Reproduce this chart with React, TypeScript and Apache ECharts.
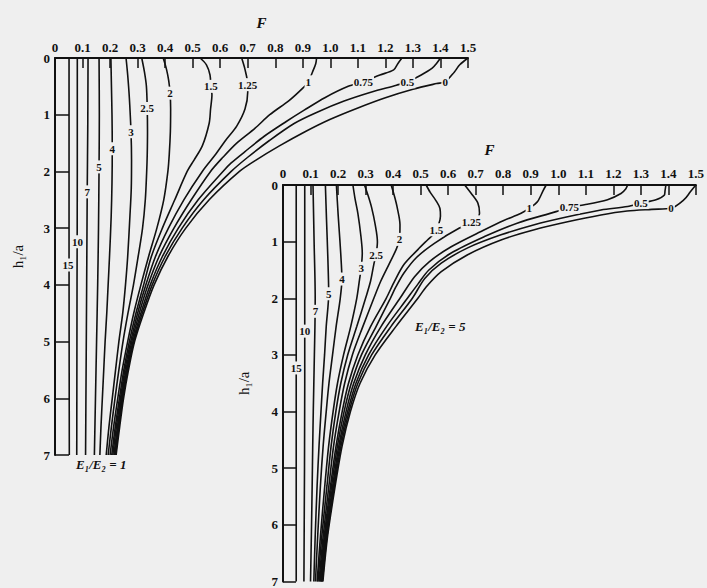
import { useEffect, useRef } from 'react';
import * as echarts from 'echarts';

type Pt = [number, number];

// Curve names: offset ratio r/a
const rOverA = ['0', '0.5', '0.75', '1', '1.25', '1.5', '2', '2.5', '3', '4', '5', '7', '10', '15'];

// E1/E2 = 1 — points are [F, h1/a]
const e1R0: Pt[] = [[1.5,0],[1.47,0.12],[1.45,0.25],[1.417,0.42],[1.386,0.45],[1.3,0.55],[1.2,0.7],[1.1,0.88],[1.0,1.08],[0.908,1.3],[0.815,1.55],[0.73,1.8],[0.67,2.0],[0.56,2.5],[0.475,3.0],[0.41,3.5],[0.36,4.0],[0.322,4.5],[0.289,5.0],[0.267,5.5],[0.249,6.0],[0.235,6.5],[0.222,7.0]];
const e1R05: Pt[] = [[1.4,0],[1.385,0.1],[1.37,0.18],[1.33,0.3],[1.28,0.42],[1.24,0.48],[1.15,0.6],[1.05,0.76],[0.95,0.96],[0.87,1.15],[0.78,1.45],[0.7,1.75],[0.64,2.0],[0.54,2.5],[0.462,3.0],[0.4,3.5],[0.353,4.0],[0.317,4.5],[0.286,5.0],[0.264,5.5],[0.246,6.0],[0.232,6.5],[0.22,7.0]];
const e1R075: Pt[] = [[1.26,0],[1.245,0.1],[1.23,0.21],[1.18,0.3],[1.12,0.42],[1.065,0.5],[0.98,0.7],[0.905,0.92],[0.84,1.12],[0.76,1.38],[0.69,1.65],[0.64,1.85],[0.61,2.0],[0.52,2.5],[0.448,3.0],[0.39,3.5],[0.346,4.0],[0.312,4.5],[0.283,5.0],[0.261,5.5],[0.244,6.0],[0.23,6.5],[0.217,7.0]];
const e1R1: Pt[] = [[0.95,0],[0.947,0.1],[0.935,0.25],[0.92,0.42],[0.9,0.53],[0.85,0.75],[0.78,1.0],[0.726,1.24],[0.66,1.5],[0.61,1.75],[0.565,2.0],[0.495,2.5],[0.432,3.0],[0.378,3.5],[0.338,4.0],[0.306,4.5],[0.279,5.0],[0.258,5.5],[0.241,6.0],[0.227,6.5],[0.214,7.0]];
const e1R125: Pt[] = [[0.678,0],[0.69,0.2],[0.7,0.47],[0.7,0.6],[0.69,0.9],[0.66,1.2],[0.62,1.45],[0.58,1.72],[0.535,2.0],[0.468,2.5],[0.412,3.0],[0.365,3.5],[0.33,4.0],[0.3,4.5],[0.275,5.0],[0.254,5.5],[0.238,6.0],[0.223,6.5],[0.21,7.0]];
const e1R15: Pt[] = [[0.527,0],[0.55,0.12],[0.563,0.3],[0.566,0.5],[0.57,0.65],[0.565,0.9],[0.56,1.15],[0.535,1.55],[0.505,1.8],[0.48,2.0],[0.435,2.5],[0.39,3.0],[0.35,3.5],[0.322,4.0],[0.294,4.5],[0.27,5.0],[0.25,5.5],[0.234,6.0],[0.219,6.5],[0.206,7.0]];
const e1R2: Pt[] = [[0.393,0],[0.405,0.2],[0.413,0.4],[0.418,0.62],[0.42,0.9],[0.419,1.3],[0.415,1.7],[0.41,2.0],[0.395,2.5],[0.37,3.0],[0.34,3.5],[0.312,4.0],[0.286,4.5],[0.264,5.0],[0.244,5.5],[0.228,6.0],[0.213,6.5],[0.2,7.0]];
const e1R25: Pt[] = [[0.315,0],[0.325,0.25],[0.332,0.5],[0.335,0.89],[0.336,1.3],[0.335,1.7],[0.333,2.0],[0.328,2.5],[0.318,3.0],[0.302,3.5],[0.285,4.0],[0.265,4.5],[0.247,5.0],[0.232,5.5],[0.218,6.0],[0.205,6.5],[0.193,7.0]];
const e1R3: Pt[] = [[0.258,0],[0.264,0.3],[0.27,0.7],[0.276,1.3],[0.278,1.8],[0.277,2.3],[0.272,2.8],[0.264,3.5],[0.256,4.0],[0.246,4.5],[0.232,5.0],[0.22,5.5],[0.208,6.0],[0.196,6.5],[0.186,7.0]];
const e1R4: Pt[] = [[0.203,0],[0.205,0.5],[0.207,1.0],[0.208,1.6],[0.207,2.2],[0.204,2.8],[0.198,3.5],[0.193,4.0],[0.188,4.5],[0.182,5.0],[0.177,5.5],[0.172,6.0],[0.167,6.5],[0.163,7.0]];
const e1R5: Pt[] = [[0.16,0],[0.161,1.0],[0.16,1.92],[0.158,3.0],[0.155,4.0],[0.151,5.0],[0.147,6.0],[0.143,7.0]];
const e1R7: Pt[] = [[0.12,0],[0.119,1.2],[0.117,2.36],[0.115,4.0],[0.113,5.5],[0.111,7.0]];
const e1R10: Pt[] = [[0.081,0],[0.081,2.0],[0.08,4.0],[0.079,7.0]];
const e1R15b: Pt[] = [[0.051,0],[0.051,3.5],[0.052,7.0]];

// where each r/a name sits on its curve (E1/E2 = 1)
const e1LabelAt: Pt[] = [[1.417,0.42],[1.28,0.42],[1.12,0.42],[0.92,0.42],[0.7,0.47],[0.566,0.5],[0.418,0.62],[0.335,0.89],[0.276,1.3],[0.208,1.6],[0.16,1.92],[0.117,2.36],[0.082,3.24],[0.047,3.65]];

// E1/E2 = 5 — points are [F, h1/a]
const e5R0: Pt[] = [[1.5,0],[1.48,0.12],[1.457,0.26],[1.41,0.41],[1.34,0.43],[1.25,0.46],[1.155,0.53],[1.034,0.65],[0.913,0.79],[0.792,0.97],[0.671,1.23],[0.575,1.53],[0.52,1.8],[0.49,2.0],[0.41,2.5],[0.335,3.0],[0.28,3.5],[0.245,4.0],[0.215,4.6],[0.19,5.3],[0.162,6.2],[0.145,7.0]];
const e5R05: Pt[] = [[1.391,0],[1.388,0.1],[1.385,0.18],[1.355,0.26],[1.3,0.32],[1.252,0.38],[1.155,0.44],[1.034,0.56],[0.913,0.7],[0.792,0.88],[0.671,1.11],[0.575,1.38],[0.515,1.65],[0.47,2.0],[0.392,2.5],[0.322,3.0],[0.272,3.5],[0.24,4.0],[0.211,4.6],[0.187,5.3],[0.16,6.2],[0.143,7.0]];
const e5R075: Pt[] = [[1.252,0],[1.245,0.07],[1.228,0.15],[1.179,0.26],[1.095,0.35],[1.04,0.39],[0.992,0.47],[0.853,0.67],[0.732,0.91],[0.611,1.2],[0.53,1.5],[0.49,1.75],[0.452,2.0],[0.376,2.5],[0.311,3.0],[0.265,3.5],[0.235,4.0],[0.207,4.6],[0.184,5.3],[0.158,6.2],[0.141,7.0]];
const e5R1: Pt[] = [[0.956,0],[0.945,0.1],[0.925,0.29],[0.895,0.41],[0.865,0.5],[0.8,0.63],[0.732,0.79],[0.611,1.09],[0.53,1.36],[0.478,1.62],[0.425,2.0],[0.356,2.5],[0.299,3.0],[0.257,3.5],[0.229,4.0],[0.203,4.6],[0.181,5.3],[0.156,6.2],[0.139,7.0]];
const e5R125: Pt[] = [[0.66,0],[0.684,0.15],[0.708,0.32],[0.714,0.5],[0.705,0.6],[0.675,0.7],[0.641,0.76],[0.55,1.03],[0.485,1.28],[0.44,1.55],[0.41,1.8],[0.39,2.0],[0.338,2.5],[0.285,3.0],[0.248,3.5],[0.222,4.0],[0.198,4.6],[0.177,5.3],[0.153,6.2],[0.137,7.0]];
const e5R15: Pt[] = [[0.52,0],[0.535,0.13],[0.555,0.27],[0.57,0.41],[0.572,0.55],[0.565,0.7],[0.55,0.85],[0.525,0.97],[0.49,1.14],[0.44,1.4],[0.405,1.7],[0.375,2.0],[0.318,2.5],[0.272,3.0],[0.238,3.5],[0.215,4.0],[0.193,4.6],[0.173,5.3],[0.15,6.2],[0.134,7.0]];
const e5R2: Pt[] = [[0.393,0],[0.405,0.2],[0.415,0.4],[0.425,0.7],[0.423,0.96],[0.41,1.15],[0.385,1.4],[0.355,1.7],[0.33,2.0],[0.29,2.5],[0.252,3.0],[0.224,3.5],[0.204,4.0],[0.184,4.6],[0.167,5.3],[0.146,6.2],[0.131,7.0]];
const e5R25: Pt[] = [[0.296,0],[0.31,0.2],[0.322,0.4],[0.335,0.7],[0.343,1.0],[0.338,1.23],[0.33,1.4],[0.318,1.7],[0.3,2.0],[0.268,2.5],[0.235,3.0],[0.21,3.5],[0.192,4.0],[0.175,4.6],[0.16,5.3],[0.141,6.2],[0.127,7.0]];
const e5R3: Pt[] = [[0.254,0],[0.262,0.25],[0.272,0.5],[0.283,0.9],[0.288,1.2],[0.284,1.47],[0.278,1.67],[0.268,2.0],[0.246,2.5],[0.22,3.0],[0.198,3.5],[0.182,4.0],[0.166,4.6],[0.152,5.3],[0.136,6.2],[0.124,7.0]];
const e5R4: Pt[] = [[0.194,0],[0.2,0.5],[0.207,1.0],[0.212,1.4],[0.214,1.66],[0.208,2.0],[0.193,2.5],[0.18,3.0],[0.167,3.5],[0.157,4.0],[0.146,4.6],[0.136,5.3],[0.126,6.2],[0.118,7.0]];
const e5R5: Pt[] = [[0.154,0],[0.158,0.6],[0.163,1.3],[0.166,1.92],[0.157,2.5],[0.151,3.0],[0.144,3.5],[0.138,4.0],[0.131,4.6],[0.124,5.3],[0.117,6.2],[0.112,7.0]];
const e5R7: Pt[] = [[0.109,0],[0.113,1.0],[0.117,2.0],[0.116,2.5],[0.114,3.0],[0.112,3.5],[0.11,4.0],[0.108,4.6],[0.106,5.3],[0.103,6.2],[0.1,7.0]];
const e5R10: Pt[] = [[0.079,0],[0.079,3.5],[0.076,7.0]];
const e5R15b: Pt[] = [[0.048,0],[0.048,7.0]];

// where each r/a name sits on its curve (E1/E2 = 5)
const e5LabelAt: Pt[] = [[1.41,0.41],[1.3,0.31],[1.04,0.39],[0.895,0.41],[0.684,0.65],[0.557,0.79],[0.423,0.96],[0.338,1.23],[0.284,1.47],[0.214,1.66],[0.166,1.92],[0.118,2.23],[0.079,2.58],[0.048,3.23]];

const e1Curves = [e1R0, e1R05, e1R075, e1R1, e1R125, e1R15, e1R2, e1R25, e1R3, e1R4, e1R5, e1R7, e1R10, e1R15b];
const e5Curves = [e5R0, e5R05, e5R075, e5R1, e5R125, e5R15, e5R2, e5R25, e5R3, e5R4, e5R5, e5R7, e5R10, e5R15b];

const BG = '#efefef';
const INK = '#111111';
const SERIF = '"Liberation Serif", "DejaVu Serif", serif';

function xAxisFor(gridIndex: number, labelMargin: number) {
  return {
    type: 'value', gridIndex, position: 'top', min: 0, max: 1.5, interval: 0.1,
    name: 'F', nameLocation: 'middle', nameGap: 28,
    nameTextStyle: { fontFamily: SERIF, fontStyle: 'italic', fontWeight: 'bold', fontSize: 15, color: INK },
    axisLine: { show: true, onZero: false, lineStyle: { color: INK, width: 2 } },
    axisTick: { show: true, inside: true, length: 10, lineStyle: { color: INK, width: 1.5 } },
    axisLabel: {
      margin: labelMargin, fontFamily: SERIF, fontWeight: 'bold', fontSize: 13, color: INK,
      formatter: (v: number) => (v === 0 ? '0' : v.toFixed(1)),
    },
    splitLine: { show: false },
  };
}

function yAxisFor(gridIndex: number, tickLen: number, nameGap: number) {
  return {
    type: 'value', gridIndex, inverse: true, min: 0, max: 7, interval: 1,
    name: 'h₁/a', nameLocation: 'middle', nameGap, nameRotate: 90,
    nameTextStyle: { fontFamily: SERIF, fontSize: 15, color: INK },
    axisLine: { show: true, onZero: false, lineStyle: { color: INK, width: 2 } },
    axisTick: { show: true, inside: true, length: tickLen, lineStyle: { color: INK, width: 1.5 } },
    axisLabel: { margin: 5, fontFamily: SERIF, fontWeight: 'bold', fontSize: 13, color: INK },
    splitLine: { show: false },
  };
}

function curveSeries(curves: Pt[][], axisIndex: number) {
  return curves.map((pts, i) => ({
    type: 'line', name: `r/a = ${rOverA[i]}`,
    xAxisIndex: axisIndex, yAxisIndex: axisIndex,
    data: pts, smooth: 0.3, symbol: 'none', silent: true, z: 2,
    lineStyle: { color: INK, width: 1.6 },
  }));
}

// r/a names written on the curves, each on a patch of page colour that breaks the line
function labelSeries(at: Pt[], axisIndex: number) {
  return {
    type: 'custom', xAxisIndex: axisIndex, yAxisIndex: axisIndex, silent: true, z: 5,
    data: at.map((p, i) => [p[0], p[1], i]),
    renderItem: (_params: any, api: any) => {
      const pt = api.coord([api.value(0), api.value(1)]);
      return {
        type: 'text', x: pt[0], y: pt[1],
        style: {
          text: rOverA[api.value(2)],
          font: `bold 11px ${SERIF}`, fill: INK,
          align: 'center', verticalAlign: 'middle',
          backgroundColor: BG, padding: [1, 1],
        },
      };
    },
  };
}

export default function App() {
  const ref = useRef<HTMLDivElement>(null);

  useEffect(() => {
    if (!ref.current) return;
    const chart = echarts.init(ref.current, undefined, { renderer: 'svg' });
    chart.setOption({
      animation: false,
      backgroundColor: BG,
      grid: [
        { left: 55, top: 58, width: 413, height: 397 },
        { left: 283, top: 185, width: 414, height: 398 },
      ],
      xAxis: [xAxisFor(0, 4), xAxisFor(1, 5)],
      yAxis: [yAxisFor(0, 14, 30), yAxisFor(1, 13, 32)],
      series: [
        ...curveSeries(e1Curves, 0),
        labelSeries(e1LabelAt, 0),
        ...curveSeries(e5Curves, 1),
        labelSeries(e5LabelAt, 1),
      ],
      graphic: [
        {
          type: 'text', left: 76, top: 458,
          style: { text: 'E₁/E₂ = 1', font: `italic bold 13px ${SERIF}`, fill: INK },
        },
        {
          type: 'text', left: 415, top: 320,
          style: { text: 'E₁/E₂ = 5', font: `italic bold 13px ${SERIF}`, fill: INK },
        },
      ],
    });
    return () => chart.dispose();
  }, []);

  return (
    <div
      ref={ref}
      style={{ position: 'absolute', left: 0, top: 0, width: 707, height: 588, background: BG }}
    />
  );
}
